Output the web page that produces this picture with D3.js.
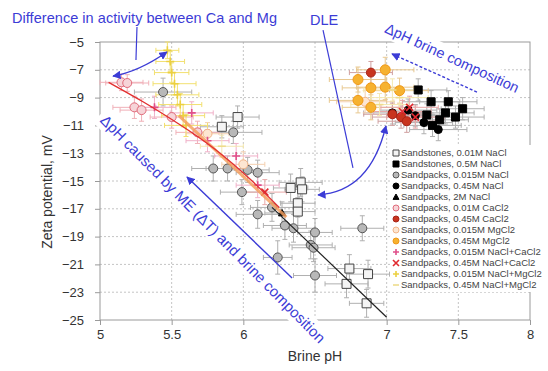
<!DOCTYPE html>
<html>
<head>
<meta charset="utf-8">
<script src="https://cdn.jsdelivr.net/npm/d3@7"></script>
<style>
  body { margin: 0; background: #fff; }
  text { font-family: "Liberation Sans", Arial, sans-serif; }
</style>
</head>
<body>
<div id="chart"></div>
<script>
// points are [pH, zeta, pH error, zeta error]
const sandstone001 = [[5.96,-10.4,0.15,0.8],[5.85,-11.1,0.15,0.8],[6.33,-15.5,0.12,1.0],[6.40,-15.1,0.15,1.0],[6.41,-15.6,0.12,0.9],[6.38,-16.6,0.12,1.0],[6.38,-17.2,0.12,1.0],[6.74,-21.3,0.15,1.0],[6.87,-21.7,0.15,1.0],[6.72,-22.4,0.15,1.0],[6.86,-23.8,0.12,1.0]];
const sandstone05 = [[7.22,-8.45,0.2,0.8],[7.31,-9.3,0.2,0.8],[7.43,-9.3,0.2,0.8],[7.53,-9.8,0.15,0.8],[7.41,-10.1,0.2,0.8],[7.48,-10.4,0.2,0.8],[7.37,-10.6,0.2,0.8],[7.32,-11.0,0.2,0.8],[7.28,-10.25,0.2,0.8]];
const sandpack0015 = [[5.44,-8.6,0.2,1.0],[5.93,-11.5,0.2,0.8],[5.79,-14.1,0.15,0.9],[5.89,-14.1,0.15,0.9],[6.03,-14.2,0.15,0.9],[6.10,-14.4,0.15,0.9],[5.99,-15.8,0.15,0.9],[6.10,-17.4,0.15,1.0],[6.20,-16.9,0.15,1.0],[6.29,-18.2,0.15,1.0],[6.35,-18.4,0.15,1.0],[6.50,-18.7,0.12,1.0],[6.47,-19.6,0.15,1.0],[6.49,-19.8,0.15,1.0],[6.24,-20.5,0.1,1.2],[6.50,-21.8,0.15,1.2],[6.83,-18.4,0.15,0.9]];
const sandpack045 = [[7.04,-10.1,0.2,0.8],[7.20,-10.3,0.2,0.8],[7.26,-10.8,0.2,0.8],[7.36,-11.3,0.2,0.8],[7.15,-9.9,0.2,0.8]];
const sandpack2M = [[6.27,-17.3,0.12,0.8]];
const cacl001 = [[5.15,-7.9,0.15,0.6],[5.19,-7.95,0.15,0.6],[5.24,-9.7,0.15,0.8],[5.29,-9.9,0.15,0.8],[5.50,-10.4,0.15,0.8],[5.68,-11.5,0.15,0.8]];
const cacl045 = [[6.89,-7.2,0.15,0.8],[7.04,-10.2,0.2,0.8],[7.10,-10.4,0.2,0.8],[7.14,-10.7,0.2,0.8]];
const mgcl0015 = [[5.75,-11.6,0.15,0.8],[6.0,-13.8,0.15,0.9],[6.85,-9.3,0.2,0.8]];
const mgcl045 = [[6.80,-7.7,0.2,0.9],[6.99,-7.0,0.2,0.9],[6.89,-8.3,0.2,0.9],[6.99,-8.25,0.2,0.9],[7.09,-8.5,0.2,0.9],[6.80,-9.2,0.2,0.9],[6.89,-9.7,0.2,0.9]];
const naclcacl0015 = [[5.38,-9.7,0.15,0.8],[5.64,-10.1,0.15,0.8],[5.75,-12.1,0.15,0.8],[5.95,-13.2,0.15,0.9],[6.1,-15.3,0.15,0.9]];
const naclcacl045 = [[7.16,-9.7,0.2,0.8],[7.11,-10.0,0.2,0.8],[7.20,-10.4,0.2,0.8],[6.15,-15.8,0.15,0.9]];
const naclmgcl0015 = [[5.47,-5.6,0.08,0.6],[5.49,-6.4,0.1,0.7],[5.50,-7.2,0.12,0.7],[5.52,-8.0,0.15,0.8],[5.54,-8.8,0.15,0.8],[5.56,-9.5,0.15,0.8],[5.58,-10.3,0.15,0.8],[5.60,-11.0,0.15,0.8]];
const naclmgcl045 = [[7.04,-8.45,0.2,0.8],[7.09,-9.0,0.2,0.8],[6.95,-9.5,0.2,0.8],[5.85,-12.5,0.15,0.8]];

// trend lines
const redCurve = [[5.06,-7.9],[5.3,-9.3],[5.55,-10.9],[5.8,-12.7],[6.05,-14.9],[6.25,-16.9]];
const orangeLine = [[5.55,-10.3],[6.3,-17.6]];
const blackLine = [[6.2,-16.9],[7.0,-24.8]];

const xTicks = [5, 5.5, 6, 6.5, 7, 7.5, 8];
const yTicks = [-5, -7, -9, -11, -13, -15, -17, -19, -21, -23, -25];

const series = [
  { label: 'Sandstones, 0.01M NaCl', data: sandstone001, shape: 'square', stroke: '#444', fill: '#f4f4f4', size: 9, err: '#b0b0b0' },
  { label: 'Sandstones, 0.5M NaCl', data: sandstone05, shape: 'square', stroke: '#000', fill: '#000', size: 8, err: '#b0b0b0' },
  { label: 'Sandpacks, 0.015M NaCl', data: sandpack0015, shape: 'circle', stroke: '#555', fill: '#b8b8b8', size: 9, err: '#b0b0b0' },
  { label: 'Sandpacks, 0.45M NaCl', data: sandpack045, shape: 'circle', stroke: '#000', fill: '#000', size: 8, err: '#b0b0b0' },
  { label: 'Sandpacks, 2M NaCl', data: sandpack2M, shape: 'triangle', stroke: '#000', fill: '#000', size: 7, err: '#b0b0b0' },
  { label: 'Sandpacks, 0.01M CaCl2', data: cacl001, shape: 'circle', stroke: '#e06a7a', fill: '#f6d4d8', size: 9, err: '#f0b0b8' },
  { label: 'Sandpacks, 0.45M CaCl2', data: cacl045, shape: 'circle', stroke: '#a82418', fill: '#c8341e', size: 9, err: '#d0a0a0' },
  { label: 'Sandpacks, 0.015M MgCl2', data: mgcl0015, shape: 'circle', stroke: '#f2b488', fill: '#fde6d2', size: 9, err: '#f4d0b0' },
  { label: 'Sandpacks, 0.45M MgCl2', data: mgcl045, shape: 'circle', stroke: '#f09818', fill: '#f6b230', size: 10, err: '#e8c890' },
  { label: 'Sandpacks, 0.015M NaCl+CaCl2', data: naclcacl0015, shape: 'plus', stroke: '#e0508a', fill: 'none', size: 8, err: '#f0b0c8' },
  { label: 'Sandpacks, 0.45M NaCl+CaCl2', data: naclcacl045, shape: 'cross', stroke: '#e02a30', fill: 'none', size: 7, err: '#e8a8a8' },
  { label: 'Sandpacks, 0.015M NaCl+MgCl2', data: naclmgcl0015, shape: 'plus', stroke: '#ecd040', fill: 'none', size: 8, err: '#f2e070' },
  { label: 'Sandpacks, 0.45M NaCl+MgCl2', data: naclmgcl045, shape: 'dash', stroke: '#eedc8c', fill: 'none', size: 8, err: '#f4e8b0' }
];

const blue = '#3c3cd6';
const W = 548, H = 371;
const plot = { left: 100, right: 530, top: 42, bottom: 320 };

const svg = d3.select('#chart').append('svg')
  .attr('width', W)
  .attr('height', H);

const x = d3.scaleLinear().domain([5, 8]).range([plot.left, plot.right]);
const y = d3.scaleLinear().domain([-25, -5]).range([plot.bottom, plot.top]);

const defs = svg.append('defs');
defs.append('marker')
  .attr('id', 'arr')
  .attr('viewBox', '0 0 10 10')
  .attr('refX', 9).attr('refY', 5)
  .attr('markerWidth', 6).attr('markerHeight', 6)
  .attr('orient', 'auto-start-reverse')
  .append('path')
    .attr('d', 'M0,0L10,5L0,10z')
    .attr('fill', blue);

// grid
svg.append('g')
  .selectAll('line')
  .data(yTicks.slice(1, -1))
  .join('line')
    .attr('x1', plot.left).attr('x2', plot.right)
    .attr('y1', d => y(d)).attr('y2', d => y(d))
    .attr('stroke', '#c4c4c4')
    .attr('stroke-dasharray', '2,2');
svg.append('g')
  .selectAll('line')
  .data(xTicks.slice(1, -1))
  .join('line')
    .attr('y1', plot.top).attr('y2', plot.bottom)
    .attr('x1', d => x(d)).attr('x2', d => x(d))
    .attr('stroke', '#c4c4c4')
    .attr('stroke-dasharray', '2,2');

svg.append('rect')
  .attr('x', plot.left).attr('y', plot.top)
  .attr('width', plot.right - plot.left)
  .attr('height', plot.bottom - plot.top)
  .attr('fill', 'none')
  .attr('stroke', '#9a9a9a');

// axes
const xAxisG = svg.append('g')
  .attr('transform', `translate(0,${plot.bottom})`)
  .call(d3.axisBottom(x).tickValues(xTicks).tickFormat(d3.format('')).tickSize(5).tickPadding(5));
const yAxisG = svg.append('g')
  .attr('transform', `translate(${plot.left},0)`)
  .call(d3.axisLeft(y).tickValues(yTicks).tickSize(5).tickPadding(11));
[xAxisG, yAxisG].forEach(g => {
  g.select('.domain').remove();
  g.selectAll('line').attr('stroke', '#9a9a9a');
  g.selectAll('text')
    .attr('fill', '#333')
    .style('font-size', '13px')
    .style('font-family', '"Liberation Sans", Arial, sans-serif');
});

svg.append('text')
  .attr('x', (plot.left + plot.right) / 2)
  .attr('y', 361)
  .attr('text-anchor', 'middle')
  .attr('fill', '#333')
  .style('font-size', '14px')
  .text('Brine pH');

svg.append('text')
  .attr('transform', 'translate(52,192) rotate(-90)')
  .attr('text-anchor', 'middle')
  .attr('fill', '#333')
  .style('font-size', '14px')
  .text('Zeta potential, mV');

// error bars
const errG = svg.append('g');
series.forEach(s => {
  const g = errG.append('g').attr('stroke', s.err).attr('stroke-width', 1);
  s.data.forEach(d => {
    const cx = x(d[0]), cy = y(d[1]);
    const x0 = x(d[0] - d[2]), x1 = x(d[0] + d[2]);
    const y0 = y(d[1] - d[3]), y1 = y(d[1] + d[3]);
    g.append('line').attr('x1', x0).attr('x2', x1).attr('y1', cy).attr('y2', cy);
    g.append('line').attr('x1', x0).attr('x2', x0).attr('y1', cy - 2.5).attr('y2', cy + 2.5);
    g.append('line').attr('x1', x1).attr('x2', x1).attr('y1', cy - 2.5).attr('y2', cy + 2.5);
    g.append('line').attr('x1', cx).attr('x2', cx).attr('y1', y0).attr('y2', y1);
    g.append('line').attr('x1', cx - 2.5).attr('x2', cx + 2.5).attr('y1', y0).attr('y2', y0);
    g.append('line').attr('x1', cx - 2.5).attr('x2', cx + 2.5).attr('y1', y1).attr('y2', y1);
  });
});

function markerPath(shape, size) {
  const h = size / 2;
  if (shape === 'square') return `M${-h},${-h}H${h}V${h}H${-h}Z`;
  if (shape === 'circle') return d3.symbol(d3.symbolCircle, Math.PI * h * h)();
  if (shape === 'triangle') return `M0,${-h}L${h},${h * 0.8}L${-h},${h * 0.8}Z`;
  if (shape === 'plus') return `M${-h},0H${h}M0,${-h}V${h}`;
  if (shape === 'cross') return `M${-h},${-h}L${h},${h}M${-h},${h}L${h},${-h}`;
  return `M${-h},0H${h}`;
}

function drawMarker(g, s, cx, cy, size) {
  g.append('path')
    .attr('d', markerPath(s.shape, size))
    .attr('transform', `translate(${cx},${cy})`)
    .attr('fill', s.fill)
    .attr('stroke', s.stroke)
    .attr('stroke-width', (s.shape === 'plus' || s.shape === 'cross' || s.shape === 'dash') ? 1.6 : 1);
}

const markG = svg.append('g');
series.forEach(s => {
  s.data.forEach(d => drawMarker(markG, s, x(d[0]), y(d[1]), s.size));
});

// trend lines
const line = d3.line().x(d => x(d[0])).y(d => y(d[1]));
svg.append('path')
  .datum(orangeLine)
  .attr('d', line)
  .attr('fill', 'none')
  .attr('stroke', '#f4a060')
  .attr('stroke-opacity', 0.85)
  .attr('stroke-width', 3);
svg.append('path')
  .datum(redCurve)
  .attr('d', d3.line().x(d => x(d[0])).y(d => y(d[1])).curve(d3.curveNatural))
  .attr('fill', 'none')
  .attr('stroke', '#e23030')
  .attr('stroke-width', 1.4);
svg.append('path')
  .datum(blackLine)
  .attr('d', line)
  .attr('fill', 'none')
  .attr('stroke', '#222')
  .attr('stroke-width', 1.2);

// annotations (positions in data units)
function rotatedLabel(text, cx, cy, angle, size, len) {
  const g = svg.append('g')
    .attr('transform', `translate(${x(cx)},${y(cy)}) rotate(${angle})`);
  g.append('rect')
    .attr('x', -len / 2 - 4).attr('y', -size * 0.7)
    .attr('width', len + 8).attr('height', size * 1.4)
    .attr('fill', '#fff');
  g.append('text')
    .attr('text-anchor', 'middle')
    .attr('dy', '0.35em')
    .attr('fill', blue)
    .attr('textLength', len)
    .style('font-size', size + 'px')
    .text(text);
}

function arrowPath(p0, c, p1, both, dashed) {
  const p = d3.path();
  p.moveTo(x(p0[0]), y(p0[1]));
  if (c) p.quadraticCurveTo(x(c[0]), y(c[1]), x(p1[0]), y(p1[1]));
  else p.lineTo(x(p1[0]), y(p1[1]));
  const el = svg.append('path')
    .attr('d', p.toString())
    .attr('fill', 'none')
    .attr('stroke', blue)
    .attr('stroke-width', 1.4)
    .attr('marker-end', 'url(#arr)');
  if (both) el.attr('marker-start', 'url(#arr)');
  if (dashed) el.attr('stroke-dasharray', '3,2');
  return el;
}

// Ca / Mg
svg.append('text')
  .attr('x', x(4.386)).attr('y', y(-3.63))
  .attr('fill', blue)
  .attr('textLength', 265)
  .style('font-size', '14.5px')
  .text('Difference in activity between Ca and Mg');
svg.append('line')
  .attr('x1', x(5.258)).attr('y1', y(-3.92))
  .attr('x2', x(5.251)).attr('y2', y(-6.29))
  .attr('stroke', blue).attr('stroke-width', 1.2);
arrowPath([5.091, -7.45], [5.265, -7.16], [5.467, -5.72], true, false);

// DLE
svg.append('text')
  .attr('x', x(6.465)).attr('y', y(-3.78))
  .attr('fill', blue)
  .style('font-size', '14.5px')
  .text('DLE');
svg.append('line')
  .attr('x1', x(6.556)).attr('y1', y(-4.14))
  .attr('x2', x(6.765)).attr('y2', y(-14.06))
  .attr('stroke', blue).attr('stroke-width', 1.2);
arrowPath([6.995, -11.04], [6.884, -15.79], [6.521, -16.0], true, false);

// brine composition
rotatedLabel('\u0394pH brine composition', 7.456, -6.15, 24.8, 14.5, 146);
arrowPath([7.63, -8.6], null, [7.037, -5.86], false, true);

// ME and brine composition
rotatedLabel('\u0394pH caused by ME (\u0394T) and brine composition', 5.788, -18.45, 45.4, 15, 313);
arrowPath([6.34, -21.98], null, [5.607, -14.71], false, false);

// legend
const legend = svg.append('g');
legend.append('rect')
  .attr('x', 390).attr('y', 145)
  .attr('width', 158).attr('height', 147)
  .attr('fill', '#fff');
series.forEach((s, i) => {
  const ly = 153 + i * 11;
  drawMarker(legend, s, 396, ly, 6);
  legend.append('text')
    .attr('x', 401).attr('y', ly)
    .attr('dy', '0.35em')
    .attr('fill', '#444')
    .style('font-size', '9.5px')
    .text(s.label);
});
</script>
</body>
</html>
